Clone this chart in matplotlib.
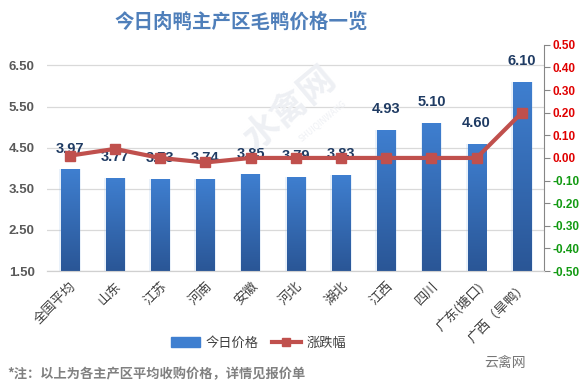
import matplotlib
matplotlib.use("Agg")
import matplotlib.pyplot as plt
import numpy as np

plt.rcParams["font.family"] = ["Noto Sans CJK SC", "DejaVu Sans"]

regions = ["全国平均", "山东", "江苏", "河南", "安徽", "河北", "湖北",
           "江西", "四川", "广东(塘口)", "广西（旱鸭）"]
prices = [3.97, 3.77, 3.73, 3.74, 3.85, 3.79, 3.83, 4.93, 5.10, 4.60, 6.10]
changes = [0.01, 0.04, 0.00, -0.02, 0.00, 0.00, 0.00, 0.00, 0.00, 0.00, 0.20]
left_ticks = [1.5, 2.5, 3.5, 4.5, 5.5, 6.5]
right_ticks = [-0.5, -0.4, -0.3, -0.2, -0.1, 0.0, 0.1, 0.2, 0.3, 0.4, 0.5]

BAR_TOP = "#3f7fd0"
BAR_BOT = "#2a5696"
LINE = "#c0504d"
NUM_FONT = ["Liberation Sans", "DejaVu Sans"]

fig = plt.figure(figsize=(5.81, 3.90), dpi=100)
ax = fig.add_axes([0.081, 0.305, 0.856, 0.58])
ax2 = ax.twinx()

x = np.arange(len(regions))

# faint watermark
fig.text(0.50, 0.72, "水禽网", rotation=40, fontsize=26, color="#eef0f4",
         ha="center", va="center", fontweight="bold", zorder=0)
fig.text(0.555, 0.69, "SHUIQINWANG", rotation=40, fontsize=6, color="#eef0f4",
         ha="center", va="center", zorder=0)

# bars with vertical gradient and soft halo
w = 0.4
grad = np.linspace(0, 1, 256).reshape(-1, 1)
cmap = matplotlib.colors.LinearSegmentedColormap.from_list("b", [BAR_BOT, BAR_TOP])
ax.bar(x, np.array(prices) - 1.5, bottom=1.5, width=w + 0.08, color="#9dc0ea",
       alpha=0.22, zorder=2, linewidth=0)
bars = ax.bar(x, np.array(prices) - 1.5, bottom=1.5, width=w, color=BAR_TOP,
              zorder=3, linewidth=0)
for b in bars:
    x0, y0 = b.get_x(), b.get_y()
    im = ax.imshow(grad, extent=[x0, x0 + b.get_width(), y0, y0 + b.get_height()],
                   origin="lower", cmap=cmap, aspect="auto", zorder=3)
    im.set_clip_path(b)
ax.set_xlim(-0.5, len(regions) - 0.5)
ax.set_ylim(1.5, 7.0)
ax2.set_ylim(-0.5, 0.5)

for xi, p in zip(x, prices):
    ax.annotate(f"{p:.2f}", (xi, p), xytext=(0, 10), textcoords="offset points",
                ha="center", va="bottom", fontsize=10.5, color="#1f3b63",
                fontweight="bold", zorder=6, family=NUM_FONT)

ax2.plot(x, changes, color=LINE, lw=3, marker="s", ms=7, zorder=5)

ax.set_yticks(left_ticks)
ax.set_yticklabels([f"{t:.2f}" for t in left_ticks], fontsize=9.5,
                   color="#595959", fontweight="bold", family=NUM_FONT)
ax.yaxis.grid(True, color="#d9d9d9", lw=0.9)
ax.set_axisbelow(True)
ax.tick_params(axis="y", length=0, pad=9)
ax.set_xticks(x)
ax.set_xticklabels(regions, rotation=45, ha="right", rotation_mode="anchor",
                   fontsize=9.5, color="#404040")
ax.tick_params(axis="x", length=0, pad=6)

ax2.set_yticks(right_ticks)
labels = ax2.set_yticklabels([f"{t:.2f}" for t in right_ticks], fontsize=8.5,
                             fontweight="bold", family=NUM_FONT)
for lab, t in zip(labels, right_ticks):
    lab.set_color("#e00000" if t >= -1e-9 else "#129a12")
ax2.tick_params(axis="y", length=4, color="#868686", pad=2)

for a in (ax, ax2):
    for s in ("top", "left", "right"):
        a.spines[s].set_visible(False)
    a.spines["bottom"].set_color("#d0d0d0")
ax2.spines["right"].set_visible(True)
ax2.spines["right"].set_color("#868686")

fig.text(0.416, 0.943, "今日肉鸭主产区毛鸭价格一览", fontsize=14, fontweight="bold",
         color="#4f7fba", ha="center", va="center")

handles = [matplotlib.patches.Patch(color=BAR_TOP),
           matplotlib.lines.Line2D([], [], color=LINE, lw=3, marker="s", ms=6)]
fig.legend(handles, ["今日价格", "涨跌幅"], loc="center", ncol=2, frameon=False,
           bbox_to_anchor=(0.445, 0.12), fontsize=9.5, handlelength=2.2,
           columnspacing=1.0, handletextpad=0.4, labelcolor="#404040")

fig.text(0.012, 0.04, "*注：以上为各主产区平均收购价格，详情见报价单", fontsize=9.5,
         fontweight="bold", color="#808080", ha="left", va="center")
fig.text(0.87, 0.07, "云禽网", fontsize=10, color="#777777", ha="center", va="center")

fig.savefig("out.png", dpi=100)
